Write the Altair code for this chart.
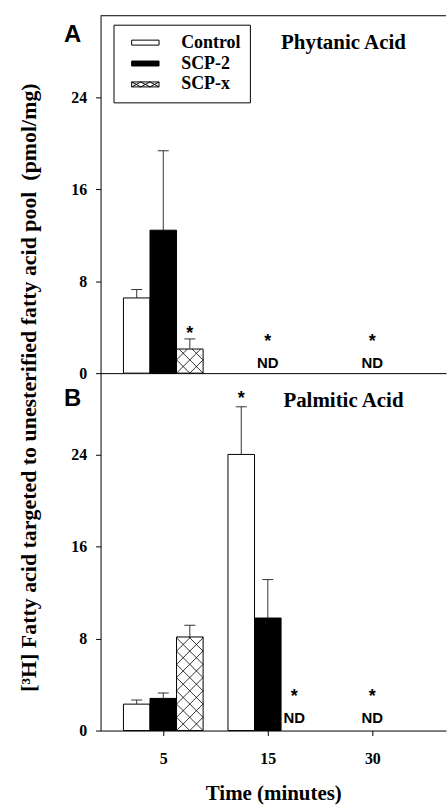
import math
import altair as alt
import pandas as pd

# ---------------- data ----------------
times = ["5", "15", "30"]
groups = ["Control", "SCP-2", "SCP-x"]

# Panel A: phytanic acid (pmol/mg); None = not detected
phy_control = [6.55, None, None]
phy_scp2 = [12.45, None, None]
phy_scpx = [2.10, None, None]
phy_control_err = [0.73, None, None]
phy_scp2_err = [6.92, None, None]
phy_scpx_err = [0.88, None, None]

# Panel B: palmitic acid (pmol/mg)
pal_control = [2.30, 24.05, None]
pal_scp2 = [2.80, 9.80, None]
pal_scpx = [8.15, None, None]
pal_control_err = [0.36, 4.15, None]
pal_scp2_err = [0.47, 3.35, None]
pal_scpx_err = [1.02, None, None]

# annotations
phy_note_time = ["5", "15", "15", "30", "30"]
phy_note_group = ["SCP-x", "SCP-2", "SCP-2", "SCP-2", "SCP-2"]
phy_note_text = ["*", "*", "ND", "*", "ND"]
phy_note_y = [3.45, 2.7, 0.87, 2.7, 0.87]

pal_note_time = ["15", "15", "15", "30", "30"]
pal_note_group = ["Control", "SCP-x", "SCP-x", "SCP-2", "SCP-2"]
pal_note_text = ["*", "*", "ND", "*", "ND"]
pal_note_y = [28.9, 2.95, 1.13, 2.95, 1.13]

y_ticks = [0, 8, 16, 24]

# ---------------- layout ----------------
W = 347
H = 359
YMAX = 31.13
XMIN = -0.6
STEP_PX = 105.0
XMAX = XMIN + W / STEP_PX
BAR = 26.67 / STEP_PX
CAP = 5.5 / STEP_PX
PX_X = STEP_PX
PX_Y = H / YMAX
PERIOD = 13.3

SERIF = "Liberation Serif"
SANS = "Liberation Sans"


def slot_left(t_idx, g_idx):
    return t_idx - 1.5 * BAR + g_idx * BAR


def build_tables(means, errs, note_time, note_group, note_text, note_y):
    bars, errrows, hatch = [], [], []
    for g_idx, g in enumerate(groups):
        for t_idx, t in enumerate(times):
            m = means[g][t_idx]
            if m is None:
                continue
            left = slot_left(t_idx, g_idx)
            bars.append({"x": left, "x2": left + BAR, "y": 0.0, "y2": m, "group": g})
            e = errs[g][t_idx]
            c = left + BAR / 2
            errrows.append({"x": c, "x2": c, "y": m, "y2": m + e})
            errrows.append({"x": c - CAP, "x2": c + CAP, "y": m + e, "y2": m + e})
            if g == "SCP-x":
                Wp = BAR * PX_X
                Hp = m * PX_Y
                kmin = -int(math.ceil(Hp / PERIOD)) - 1
                kmax = int(math.ceil((Wp + Hp) / PERIOD)) + 1
                for k in range(kmin, kmax + 1):
                    cc = k * PERIOD
                    u0, u1 = max(0.0, cc), min(Wp, Hp + cc)
                    if u1 - u0 > 0.3:
                        hatch.append({"x": left + u0 / PX_X, "x2": left + u1 / PX_X,
                                      "y": (u0 - cc) / PX_Y, "y2": (u1 - cc) / PX_Y})
                    u0, u1 = max(0.0, cc - Hp), min(Wp, cc)
                    if u1 - u0 > 0.3:
                        hatch.append({"x": left + u0 / PX_X, "x2": left + u1 / PX_X,
                                      "y": (cc - u0) / PX_Y, "y2": (cc - u1) / PX_Y})
    notes = []
    for t, g, s, yv in zip(note_time, note_group, note_text, note_y):
        t_idx = times.index(t)
        g_idx = groups.index(g)
        notes.append({"x": slot_left(t_idx, g_idx) + BAR / 2, "y": yv, "label": s})
    return (pd.DataFrame(bars), pd.DataFrame(errrows), pd.DataFrame(hatch),
            pd.DataFrame(notes))


rect_path = "M-2.75,-0.5H2.75V0.5H-2.75Z"
cells = [-2.75, -0.9167, 0.9167, 2.75]
cross_path = rect_path
for a, b in zip(cells[:-1], cells[1:]):
    cross_path += f" M{a},-0.5L{b},0.5 M{a},0.5L{b},-0.5"


def panel(means, errs, notes_args, title_text, letter, bottom):
    bars, errrows, hatch, notes = build_tables(means, errs, *notes_args)

    if bottom:
        xaxis = alt.Axis(values=[0, 1, 2], labelExpr="['5','15','30'][datum.value]",
                         title="Time (minutes)", ticks=True, tickSize=5,
                         labelPadding=15, titlePadding=16, labelFontSize=16,
                         titleFontSize=21)
    else:
        xaxis = alt.Axis(values=[0, 1, 2], labels=False, ticks=False, title=None)
    if bottom:
        yaxis = alt.Axis(values=y_ticks, title=None, tickSize=5, labelPadding=9)
    else:
        yaxis = alt.Axis(values=y_ticks, tickSize=5, labelPadding=9,
                         title="[³H] Fatty acid targeted to unesterified fatty acid pool\u00a0\u00a0(pmol/mg)",
                         titleX=-72, titleY=373, titleAngle=270, titleBaseline="middle",
                         titleAlign="center", titleFontSize=22)

    X = alt.X("x:Q", scale=alt.Scale(domain=[XMIN, XMAX], nice=False, zero=False), axis=xaxis)
    Y = alt.Y("y:Q", scale=alt.Scale(domain=[0, YMAX], nice=False, zero=True), axis=yaxis)

    if bottom:
        leg = None
    else:
        leg = alt.Legend(
            title=None, orient="none", legendX=13, legendY=9,
            symbolStrokeColor="black", symbolStrokeWidth=1, symbolOffset=14,
            labelOffset=27, labelFont=SERIF, labelFontWeight="bold", labelFontSize=18,
            labelColor="black", strokeColor="black", fillColor="white",
            padding=9, rowPadding=3, offset=0,
        )

    fscale = alt.Scale(domain=groups, range=["white", "black", "white"])
    rects = alt.Chart(bars).mark_rect(stroke="black", strokeWidth=1).encode(
        x=X, x2="x2:Q", y=Y, y2="y2:Q",
        fill=alt.Fill("group:N", scale=fscale, legend=leg))
    layers = [rects]
    if not bottom:
        keyrows = pd.DataFrame({"group": groups, "x": [XMAX + 1] * 3, "y": [1.0] * 3})
        key = alt.Chart(keyrows).mark_point(
            filled=True, stroke="black", strokeWidth=1, size=256, opacity=1, clip=True
        ).encode(
            x=X, y=Y,
            fill=alt.Fill("group:N", scale=fscale, legend=leg),
            shape=alt.Shape("group:N", scale=alt.Scale(
                domain=groups, range=[rect_path, rect_path, cross_path]), legend=leg),
        )
        layers.append(key)
    hatch_l = alt.Chart(hatch).mark_rule(color="black", strokeWidth=0.8).encode(
        x=X, x2="x2:Q", y=Y, y2="y2:Q")
    err_l = alt.Chart(errrows).mark_rule(color="#333333", strokeWidth=1).encode(
        x=X, x2="x2:Q", y=Y, y2="y2:Q")
    stars = alt.Chart(notes).transform_filter("datum.label == '*'").mark_text(
        font=SANS, fontWeight="bold", fontSize=18, baseline="middle", color="black"
    ).encode(x=X, y=Y, text="label:N")
    nds = alt.Chart(notes).transform_filter("datum.label == 'ND'").mark_text(
        font=SANS, fontWeight="bold", fontSize=15, baseline="middle", color="black").encode(
        x=X, y=Y, text="label:N")
    ttl = alt.Chart(pd.DataFrame({"t": [title_text]})).mark_text(
        font=SERIF, fontWeight="bold", fontSize=21, baseline="alphabetic", align="center",
        color="black").encode(x=alt.value(244), y=alt.value(33 if not bottom else 34), text="t:N")
    let = alt.Chart(pd.DataFrame({"t": [letter]})).mark_text(
        font=SANS, fontWeight="bold", fontSize=24, baseline="middle", align="center",
        color="black").encode(x=alt.value(-28), y=alt.value(19 if not bottom else 26), text="t:N")

    layers += [hatch_l, err_l, stars, nds, ttl, let]
    if not bottom:
        topline = alt.Chart(pd.DataFrame({"y": [YMAX]})).mark_rule(color="black").encode(
            y=Y, x=alt.value(0), x2=alt.value(W))
        layers.append(topline)
    return alt.layer(*layers).properties(width=W, height=H)


phy_means = {"Control": phy_control, "SCP-2": phy_scp2, "SCP-x": phy_scpx}
phy_errs = {"Control": phy_control_err, "SCP-2": phy_scp2_err, "SCP-x": phy_scpx_err}
pal_means = {"Control": pal_control, "SCP-2": pal_scp2, "SCP-x": pal_scpx}
pal_errs = {"Control": pal_control_err, "SCP-2": pal_scp2_err, "SCP-x": pal_scpx_err}

top = panel(phy_means, phy_errs,
            (phy_note_time, phy_note_group, phy_note_text, phy_note_y),
            "Phytanic Acid", "A", bottom=False)
bot = panel(pal_means, pal_errs,
            (pal_note_time, pal_note_group, pal_note_text, pal_note_y),
            "Palmitic Acid", "B", bottom=True)

chart = alt.vconcat(top, bot, spacing=0, bounds="flush").resolve_scale(
    x="independent", y="independent", fill="independent", shape="independent"
).resolve_legend(fill="independent", shape="independent").properties(
    padding={"left": 17, "top": 13, "right": 0, "bottom": 4},
    background="white",
).configure_view(stroke=None).configure_axis(
    grid=False, domainColor="black", tickColor="black", labelColor="black",
    titleColor="black", labelFont=SERIF, titleFont=SERIF, labelFontWeight="bold",
    titleFontWeight="bold", labelFontSize=16, domainWidth=1, tickWidth=1,
)

chart.save("out.html", embed_options={"renderer": "svg", "actions": False})
